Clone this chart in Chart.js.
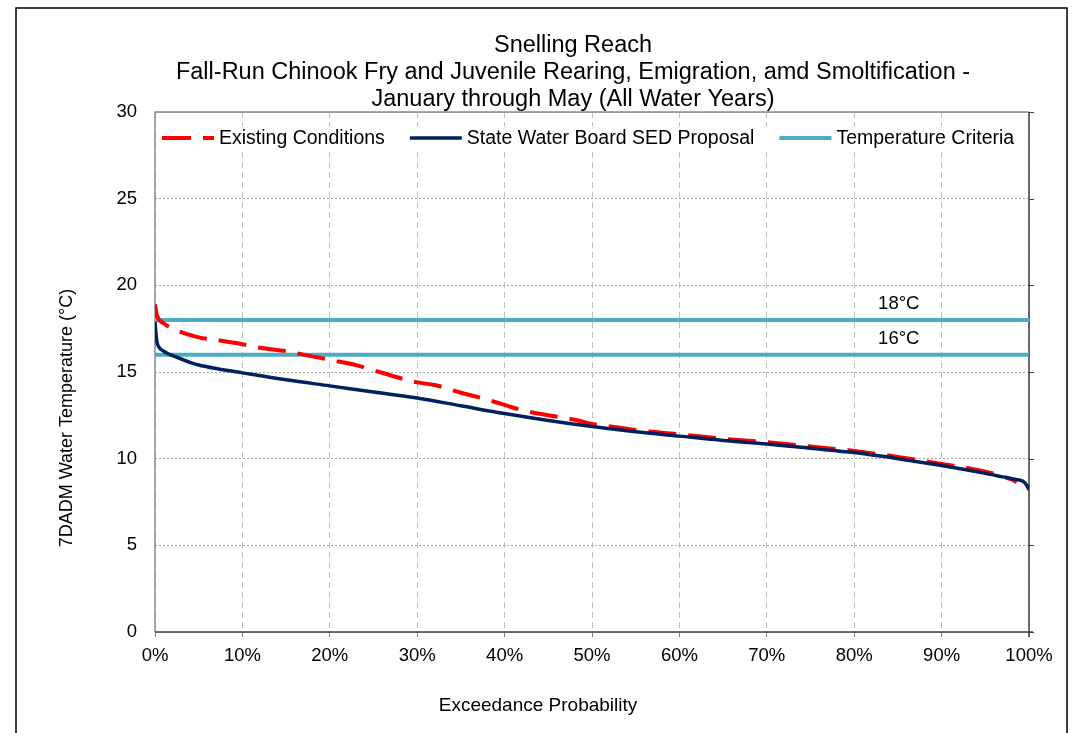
<!DOCTYPE html>
<html>
<head>
<meta charset="utf-8">
<script src="https://cdn.jsdelivr.net/npm/chart.js@4.4.0/dist/chart.umd.min.js"></script>
<style>
  html, body { margin: 0; padding: 0; background: #fff; }
  #wrap { width: 1072px; height: 733px; }
</style>
</head>
<body>
<div id="wrap"><canvas id="chart" width="1072" height="733"></canvas></div>
<script>
// chart text
const titleLines = [
    "Snelling Reach",
    "Fall-Run Chinook Fry and Juvenile Rearing, Emigration, amd Smoltification -",
    "January through May (All Water Years)",
];
const yTitle = "7DADM Water Temperature (°C)";
const xTitle = "Exceedance Probability";
const seriesNames = ["Existing Conditions", "State Water Board SED Proposal", "Temperature Criteria"];

// Existing Conditions (exceedance %, 7DADM °C)
const existingPct = [0, 0.2, 0.5, 1, 2, 3, 5, 7, 10, 12, 15, 18, 20, 23, 25, 27, 30, 32, 35, 37, 40, 42, 45, 48, 50, 53, 55, 58, 60, 65, 70, 75, 80, 85, 90, 95, 98, 98.6];
const existingTemp = [18.9, 18.3, 18.0, 17.8, 17.5, 17.3, 17.0, 16.85, 16.6, 16.4, 16.2, 15.9, 15.7, 15.4, 15.1, 14.8, 14.4, 14.25, 13.8, 13.55, 13.1, 12.8, 12.5, 12.25, 12.0, 11.8, 11.65, 11.5, 11.4, 11.15, 10.95, 10.7, 10.45, 10.1, 9.7, 9.25, 8.8, 8.65];

// State Water Board SED Proposal
const sedPct = [0, 0.2, 0.5, 1, 1.5, 2, 3, 4, 5, 7, 10, 15, 20, 25, 30, 35, 40, 45, 50, 55, 60, 65, 70, 75, 80, 85, 90, 95, 97, 98.5, 99.3, 99.7, 100];
const sedTemp = [17.9, 16.8, 16.4, 16.2, 16.05, 15.95, 15.75, 15.55, 15.4, 15.2, 14.95, 14.55, 14.2, 13.85, 13.5, 13.05, 12.6, 12.2, 11.85, 11.55, 11.3, 11.05, 10.85, 10.6, 10.35, 10.0, 9.6, 9.15, 8.95, 8.8, 8.7, 8.5, 8.2];

// criteria lines
const criteriaTemps = [18, 16];
const criteriaLabels = ["18°C", "16°C"];
const criteriaLabelPct = 85.1;

const xMin = 0, xMax = 100, xStep = 10;
const yMin = 0, yMax = 30, yStep = 5;

const FONT = "'Liberation Sans', Arial, sans-serif";
const RED = "#FF0000";
const NAVY = "#002060";
const CYAN = "#4BACC6";

function toPoints(xs, ys) {
    return xs.map((x, i) => ({ x: x, y: ys[i] }));
}

const datasets = [
    {
        label: seriesNames[0],
        data: toPoints(existingPct, existingTemp),
        borderColor: RED,
        borderWidth: 4,
        borderDash: [28, 12],
        pointRadius: 0,
        cubicInterpolationMode: "monotone",
        order: 1,
    },
    {
        label: seriesNames[1],
        data: toPoints(sedPct, sedTemp),
        borderColor: NAVY,
        borderWidth: 3.5,
        pointRadius: 0,
        cubicInterpolationMode: "monotone",
        order: 0,
    },
];
criteriaTemps.forEach((t) => {
    datasets.push({
        label: seriesNames[2],
        data: [{ x: xMin, y: t }, { x: xMax, y: t }],
        borderColor: CYAN,
        borderWidth: 4,
        pointRadius: 0,
        order: 2,
    });
});

// frame, titles, legend and line labels drawn on top of chart.js scales
const decorations = {
    id: "decorations",
    beforeDatasetsDraw(chart) {
        const { ctx, chartArea: a, scales } = chart;
        ctx.save();
        // right side outward ticks
        ctx.strokeStyle = "#404040";
        ctx.lineWidth = 1;
        for (let v = yMin; v <= yMax; v += yStep) {
            const py = Math.round(scales.y.getPixelForValue(v)) + 0.5;
            ctx.beginPath();
            ctx.moveTo(a.right, py);
            ctx.lineTo(a.right + 5, py);
            ctx.stroke();
        }
        // frame
        ctx.lineWidth = 1.5;
        ctx.strokeStyle = "#8C8C8C";
        ctx.beginPath();
        ctx.moveTo(a.left, a.bottom);
        ctx.lineTo(a.left, a.top);
        ctx.lineTo(a.right, a.top);
        ctx.stroke();
        ctx.strokeStyle = "#404040";
        ctx.beginPath();
        ctx.moveTo(a.left, a.bottom);
        ctx.lineTo(a.right + 4, a.bottom);
        ctx.moveTo(a.right, a.top);
        ctx.lineTo(a.right, a.bottom + 5);
        ctx.stroke();
        ctx.restore();
    },
    afterDraw(chart) {
        const { ctx, chartArea: a, scales } = chart;
        ctx.save();
        // outer border
        ctx.strokeStyle = "#000";
        ctx.lineWidth = 1.5;
        ctx.strokeRect(16, 8, 1051, 760);

        ctx.fillStyle = "#000";
        ctx.textAlign = "center";
        ctx.textBaseline = "middle";
        ctx.font = "23.5px " + FONT;
        titleLines.forEach((t, i) => ctx.fillText(t, 573, 46 + i * 27));

        ctx.font = "19px " + FONT;
        ctx.fillText(xTitle, 538, 706);
        ctx.font = "18px " + FONT;
        ctx.save();
        ctx.translate(67, 418);
        ctx.rotate(-Math.PI / 2);
        ctx.fillText(yTitle, 0, 0);
        ctx.restore();

        // criteria labels
        ctx.font = "18.5px " + FONT;
        criteriaTemps.forEach((t, i) => {
            ctx.fillText(criteriaLabels[i], scales.x.getPixelForValue(criteriaLabelPct), scales.y.getPixelForValue(t) - 16);
        });

        // legend
        ctx.font = "19.5px " + FONT;
        const ly = 138;
        const sample = 52;
        const items = [datasets[0], datasets[1], datasets[2]];
        let x = 162;
        const widths = items.map((d) => ctx.measureText(d.label).width);
        const total = widths.reduce((s, w) => s + w + sample + 5, 0) + 25 * (items.length - 1);
        ctx.fillStyle = "#fff";
        ctx.fillRect(x - 3, ly - 11, total + 6, 22);
        items.forEach((d, i) => {
            ctx.strokeStyle = d.borderColor;
            ctx.lineWidth = d.borderWidth;
            ctx.setLineDash(d.borderDash ? [29, 12] : []);
            ctx.beginPath();
            ctx.moveTo(x, ly);
            ctx.lineTo(x + sample, ly);
            ctx.stroke();
            ctx.setLineDash([]);
            ctx.fillStyle = "#000";
            ctx.textAlign = "left";
            ctx.fillText(d.label, x + sample + 5, ly + 1);
            x += sample + 5 + widths[i] + 25;
        });
        ctx.restore();
    },
};

new Chart(document.getElementById("chart"), {
    type: "line",
    data: { datasets: datasets },
    options: {
        responsive: false,
        animation: false,
        layout: { padding: { left: 0, right: 43, top: 112, bottom: 0 } },
        plugins: {
            legend: { display: false },
            title: { display: false },
            tooltip: { enabled: false },
        },
        scales: {
            x: {
                type: "linear",
                min: xMin,
                max: xMax,
                afterFit: (s) => { s.height = 101; },
                ticks: {
                    stepSize: xStep,
                    color: "#000",
                    padding: 8,
                    font: { family: FONT, size: 18.5 },
                    callback: (v) => v + "%",
                },
                grid: {
                    color: "#BFBFBF",
                    lineWidth: 1,
                    tickLength: 5,
                    tickColor: "#808080",
                },
                border: { display: false, dash: [6, 4] },
            },
            y: {
                min: yMin,
                max: yMax,
                afterFit: (s) => { s.width = 155; },
                ticks: {
                    stepSize: yStep,
                    color: "#000",
                    padding: 18,
                    font: { family: FONT, size: 18.5 },
                },
                grid: {
                    color: "#A6A6A6",
                    lineWidth: 1,
                    drawTicks: false,
                },
                border: { display: false, dash: [2, 2] },
            },
        },
    },
    plugins: [decorations],
});
</script>
</body>
</html>
